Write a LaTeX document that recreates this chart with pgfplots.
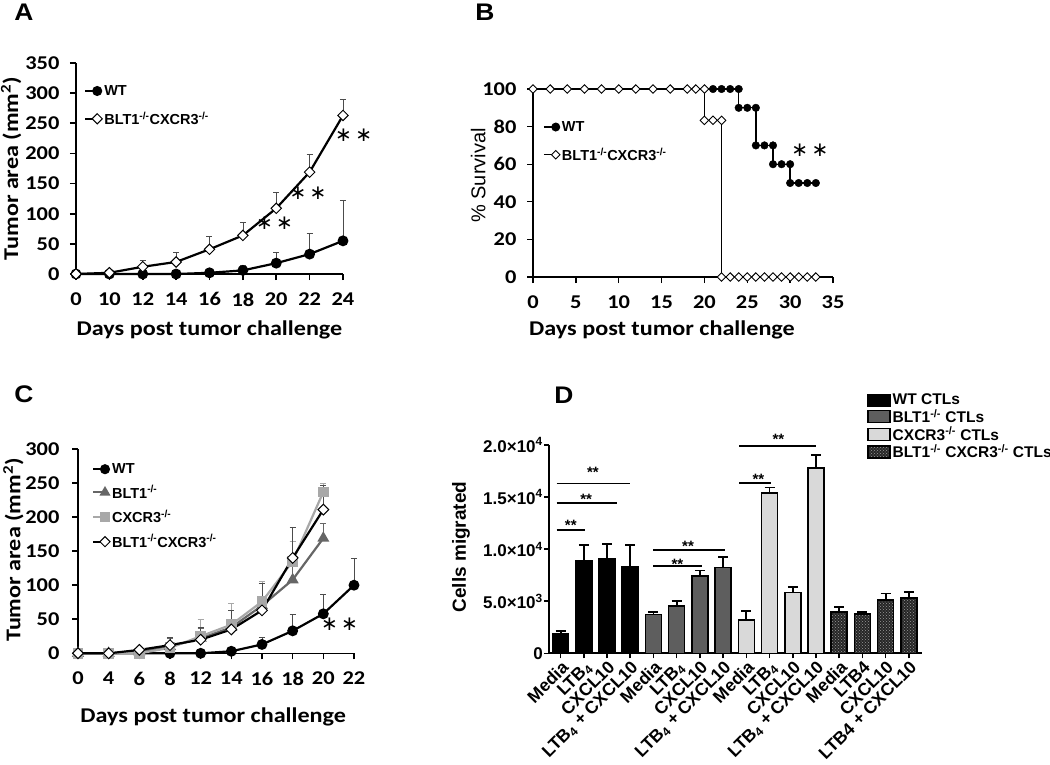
\documentclass[border=0pt]{standalone}
\usepackage{pgfplots}
\pgfplotsset{compat=1.18}
\usepackage{fontspec}
\setmainfont{Carlito}[FakeStretch=1.15]
\newfontfamily\arial{Liberation Sans}
\newfontfamily\arialw{Liberation Sans}[FakeStretch=1.1]
\newfontfamily\dejavu{DejaVu Sans}
\usetikzlibrary{patterns}
\definecolor{dgray}{HTML}{666666}
\definecolor{lgray}{HTML}{A8A8A8}
\definecolor{barlight}{HTML}{D9D9D9}
\definecolor{bardark}{HTML}{5E5E5E}
\newcommand{\sig}{{\dejavu\fontsize{20}{20}\selectfont ∗\,∗}}
\pgfplotsset{
  panel/.style={scale only axis, axis lines*=left, clip=false, enlargelimits=false,
    axis line style={line width=1.6pt}, tick align=outside, major tick length=6pt,
    tick style={line width=1.6pt, black},
    ticklabel style={font=\fontsize{19.5}{21}\selectfont\bfseries},
    xticklabel style={yshift=-9pt},
    yticklabel style={xshift=-7pt},
    /pgf/number format/assume math mode=true,
    label style={font=\fontsize{21}{24}\selectfont\bfseries},
    legend style={draw=none, fill=none, font=\arial\fontsize{14.5}{16}\selectfont\bfseries,
      inner sep=0pt, anchor=north west},
    legend cell align=left,
    legend image code/.code={\draw[mark repeat=2,mark phase=2,##1] plot coordinates {(0pt,0pt) (12pt,0pt) (15pt,0pt)};},
  },
  eb/.style={error bars/.cd, y dir=plus, y explicit,
    error bar style={line width=0.7pt, #1},
    error mark options={rotate=90, mark size=3pt, line width=0.7pt, #1}},
}
\begin{document}
\begin{tikzpicture}
\path[use as bounding box] (0,0) rectangle (1050pt,-764pt);
% panel letters
\node[font=\arialw\fontsize{24}{26}\selectfont\bfseries] at (24pt,-12pt) {A};
\node[font=\arialw\fontsize{24}{26}\selectfont\bfseries] at (485pt,-12pt) {B};
\node[font=\arialw\fontsize{24}{26}\selectfont\bfseries] at (24pt,-394pt) {C};
\node[font=\arialw\fontsize{24}{26}\selectfont\bfseries] at (564pt,-395pt) {D};

% ---------------- A ----------------
\begin{axis}[panel, at={(76pt,-274pt)}, anchor=south west, width=267pt, height=211pt,
  xmin=0, xmax=8, ymin=0, ymax=350,
  xtick={0,...,8}, xticklabels={0,10,12,14,16,18,20,22,24},
  ytick={0,50,...,350},
  xlabel={Days post tumor challenge},
  ylabel={Tumor area (mm\textsuperscript{2})},
  xlabel style={at={(axis description cs:0.5,-0.265)}, anchor=center},
  ylabel style={at={(axis description cs:-0.243,0.5)}, anchor=center},
  legend style={at={(axis description cs:0.03,0.905)}, row sep=11pt},
]
\addlegendimage{black, line width=2pt, mark=*, mark size=4pt}
\addlegendentry{WT}
\addlegendimage{black, line width=2pt, mark=square*, mark size=3.6pt, mark options={rotate=45, fill=white, line width=1pt}}
\addlegendentry{BLT1\textsuperscript{-/-}CXCR3\textsuperscript{-/-}}
\addplot[black, line width=2.2pt, mark=*, mark size=4.3pt, forget plot, eb={black!70}] coordinates {
 (0,0) (1,0) (2,0) (3,0) (4,2) (5,6) +- (0,9) (6,18) +- (0,18) (7,33) +- (0,34) (8,55) +- (0,67)};
\addplot[black, line width=2.2pt, mark=square*, mark size=3.7pt, mark options={rotate=45, fill=white, line width=1pt}, forget plot, eb={black!70}] coordinates {
 (0,0) (1,2) (2,12) +- (0,11) (3,20) +- (0,16) (4,41) +- (0,21) (5,64) +- (0,22) (6,109) +- (0,27) (7,169) +- (0,30) (8,263) +- (0,26)};
\node at (axis cs:5.95,85) {\sig};
\node at (axis cs:6.95,134) {\sig};
\node at (axis cs:8.32,231) {\sig};
\end{axis}

% ---------------- B ----------------
\begin{axis}[panel, at={(533pt,-277pt)}, anchor=south west, width=300pt, height=188pt,
  xmin=0, xmax=35, ymin=0, ymax=100,
  xtick={0,5,...,35}, ytick={0,20,...,100},
  axis line style={line width=1.3pt}, tick style={line width=1.3pt},
  xlabel={Days post tumor challenge},
  ylabel={\arial\mdseries\fontsize{20}{22}\selectfont\% Survival},
  xlabel style={at={(axis description cs:0.43,-0.282)}, anchor=center},
  ylabel style={at={(axis description cs:-0.183,0.54)}, anchor=center},
  legend style={at={(axis description cs:0.033,0.84)}, row sep=11pt},
]
\addlegendimage{black, line width=1.3pt, mark=*, mark size=3.8pt}
\addlegendentry{WT}
\addlegendimage{black, line width=1.3pt, mark=square*, mark size=3pt, mark options={rotate=45, fill=white, line width=0.9pt}}
\addlegendentry{BLT1\textsuperscript{-/-}CXCR3\textsuperscript{-/-}}
\addplot[black, line width=1.3pt, forget plot] coordinates {(0,100) (24,100) (24,90) (26,90) (26,70) (28,70) (28,60) (30,60) (30,50) (33,50)};
\addplot[only marks, black, mark=*, mark size=3.8pt, forget plot] coordinates {
 (21,100) (22,100) (23,100) (24,100) (24,90) (25,90) (26,90) (26,70) (27,70) (28,70)
 (28,60) (29,60) (30,60) (30,50) (31,50) (32,50) (33,50)};
\addplot[black, line width=1.3pt, forget plot] coordinates {(0,100) (20,100) (20,83.33) (22,83.33) (22,0) (35,0)};
\addplot[only marks, black, mark=square*, mark size=3pt, mark options={rotate=45, fill=white, line width=0.9pt}, forget plot] coordinates {
 (0,100) (2,100) (4,100) (6,100) (8,100) (10,100) (12,100) (14,100) (16,100) (18,100) (19,100) (20,100)
 (20,83.33) (21,83.33) (22,83.33)
 (22,0) (23,0) (24,0) (25,0) (26,0) (27,0) (28,0) (29,0) (30,0) (31,0) (32,0) (33,0)};
\node at (axis cs:32.3,67.5) {\sig};
\end{axis}

% ---------------- C ----------------
\begin{axis}[panel, at={(78pt,-653.3pt)}, anchor=south west, width=276pt, height=204.3pt,
  xmin=0, xmax=9, ymin=0, ymax=300,
  xtick={0,...,9}, xticklabels={0,4,6,8,12,14,16,18,20,22},
  ytick={0,50,...,300},
  yticklabel style={xshift=-2pt},
  xlabel={Days post tumor challenge},
  ylabel={Tumor area (mm\textsuperscript{2})},
  xlabel style={at={(axis description cs:0.49,-0.312)}, anchor=center},
  ylabel style={at={(axis description cs:-0.234,0.506)}, anchor=center},
  legend style={at={(axis description cs:0.05,0.94)}, row sep=6.5pt},
]
\addlegendimage{black, line width=2pt, mark=*, mark size=4pt}
\addlegendentry{WT}
\addlegendimage{dgray, line width=2pt, mark=triangle*, mark size=4.5pt}
\addlegendentry{BLT1\textsuperscript{-/-}}
\addlegendimage{lgray, line width=2pt, mark=square*, mark size=4pt}
\addlegendentry{CXCR3\textsuperscript{-/-}}
\addlegendimage{black, line width=2pt, mark=square*, mark size=3.6pt, mark options={rotate=45, fill=white, line width=1pt}}
\addlegendentry{BLT1\textsuperscript{-/-}CXCR3\textsuperscript{-/-}}
\addplot[black, line width=2.2pt, mark=*, mark size=4.3pt, forget plot, eb={black!70}] coordinates {
 (0,0) (1,0) (2,0) (3,0) (4,0) (5,3) (6,13) +- (0,11) (7,33) +- (0,24) (8,58) +- (0,29) (9,100) +- (0,40)};
\addplot[dgray, line width=2.2pt, mark=triangle*, mark size=4.8pt, forget plot, eb={dgray}] coordinates {
 (0,0) (1,0) (2,2) (3,10) +- (0,12) (4,22) +- (0,15) (5,38) +- (0,25) (6,70) +- (0,32) (7,108) +- (0,57) (8,169) +- (0,22)};
\addplot[lgray, line width=2.2pt, mark=square*, mark size=4.3pt, forget plot, eb={lgray}] coordinates {
 (0,0) (1,0) (2,0) (3,8) +- (0,15) (4,25) +- (0,25) (5,42) +- (0,32) (6,76) +- (0,29) (7,135) +- (0,30) (8,237) +- (0,13)};
\addplot[black, line width=2.2pt, mark=square*, mark size=3.8pt, mark options={rotate=45, fill=white, line width=1pt}, forget plot, eb={black!70}] coordinates {
 (0,0) (1,0) (2,5) (3,12) +- (0,12) (4,20) +- (0,18) (5,35) +- (0,28) (6,63) +- (0,40) (7,140) +- (0,45) (8,211) +- (0,35)};
\node at (axis cs:8.53,43) {\sig};
\end{axis}

% ---------------- D ----------------
\begin{axis}[scale only axis, at={(549pt,-653.3pt)}, anchor=south west, width=372.6pt, height=208.3pt,
  axis lines*=left, clip=false, enlargelimits=false,
  xmin=-0.5, xmax=15.55, ymin=0, ymax=20000,
  axis line style={line width=2.2pt}, tick align=outside, major tick length=5pt,
  tick style={line width=1.6pt, black},
  scaled y ticks=false,
  ytick={0,5000,10000,15000,20000},
  yticklabels={0,5.0×10\textsuperscript{3},1.0×10\textsuperscript{4},1.5×10\textsuperscript{4},2.0×10\textsuperscript{4}},
  yticklabel style={font=\arial\fontsize{17}{18}\selectfont\bfseries, inner sep=1pt},
  xtick={0,...,15},
  xticklabels={Media,LTB\textsubscript{4},CXCL10,LTB\textsubscript{4} + CXCL10,
    Media,LTB\textsubscript{4},CXCL10,LTB\textsubscript{4} + CXCL10,
    Media,LTB\textsubscript{4},CXCL10,LTB\textsubscript{4} + CXCL10,
    Media,LTB4,CXCL10,LTB4 + CXCL10},
  xticklabel style={font=\arial\fontsize{17.5}{18}\selectfont\bfseries, rotate=45, anchor=north east, inner sep=1pt},
  ylabel={Cells migrated},
  ylabel style={font=\arial\fontsize{19}{20}\selectfont\bfseries, at={(axis description cs:-0.236,0.51)}, anchor=center},
  legend style={draw=none, fill=none, font=\arial\fontsize{15.5}{16}\selectfont\bfseries,
    at={(axis description cs:0.8535,1.255)}, anchor=north west, inner sep=0pt, row sep=-1pt},
  legend cell align=left,
  legend image code/.code={\draw[#1] (0pt,-6pt) rectangle (22pt,6pt);},
]
\addlegendimage{fill=black, draw=black, line width=1.5pt}
\addlegendentry{WT CTLs}
\addlegendimage{fill=bardark, draw=black, line width=1.5pt}
\addlegendentry{BLT1\textsuperscript{-/-} CTLs}
\addlegendimage{fill=barlight, draw=black, line width=1.5pt}
\addlegendentry{CXCR3\textsuperscript{-/-} CTLs}
\addlegendimage{fill=black!85, draw=black, line width=1.5pt, postaction={pattern=crosshatch dots, pattern color=black!40}}
\addlegendentry{BLT1\textsuperscript{-/-} CXCR3\textsuperscript{-/-} CTLs}
\addplot[ybar, bar width=16pt, bar shift=0pt, fill=black, draw=black, line width=1.6pt, forget plot,
  error bars/.cd, y dir=plus, y explicit, error bar style={line width=1.8pt, black},
  error mark options={rotate=90, mark size=5pt, line width=1.8pt, black}] coordinates {
 (0,1920) +- (0,250) (1,8860) +- (0,1540) (2,9120) +- (0,1340) (3,8310) +- (0,2090)};
\addplot[ybar, bar width=16pt, bar shift=0pt, fill=bardark, draw=black, line width=1.6pt, forget plot,
  error bars/.cd, y dir=plus, y explicit, error bar style={line width=1.8pt, black},
  error mark options={rotate=90, mark size=5pt, line width=1.8pt, black}] coordinates {
 (4,3740) +- (0,250) (5,4540) +- (0,480) (6,7450) +- (0,510) (7,8250) +- (0,1020)};
\addplot[ybar, bar width=16pt, bar shift=0pt, fill=barlight, draw=black, line width=1.6pt, forget plot,
  error bars/.cd, y dir=plus, y explicit, error bar style={line width=1.8pt, black},
  error mark options={rotate=90, mark size=5pt, line width=1.8pt, black}] coordinates {
 (8,3200) +- (0,890) (9,15410) +- (0,520) (10,5850) +- (0,540) (11,17810) +- (0,1220)};
\addplot[ybar, bar width=16pt, bar shift=0pt, fill=black!85, draw=black, line width=1.6pt, forget plot,
  postaction={pattern=crosshatch dots, pattern color=black!40},
  error bars/.cd, y dir=plus, y explicit, error bar style={line width=1.8pt, black},
  error mark options={rotate=90, mark size=5pt, line width=1.8pt, black}] coordinates {
 (12,3990) +- (0,420) (13,3770) +- (0,190) (14,5110) +- (0,640) (15,5330) +- (0,520)};
% significance brackets
\draw[line width=1.8pt] (axis cs:-0.17,11830) -- (axis cs:1.07,11830);
\draw[line width=1.8pt] (axis cs:-0.17,14400) -- (axis cs:2.45,14400);
\draw[line width=1.8pt] (axis cs:-0.17,16310) -- (axis cs:3.0,16310);
\draw[line width=1.8pt] (axis cs:3.98,8380) -- (axis cs:6.1,8380);
\draw[line width=1.8pt] (axis cs:3.98,9910) -- (axis cs:7.08,9910);
\draw[line width=1.8pt] (axis cs:7.7,16370) -- (axis cs:9.05,16370);
\draw[line width=1.8pt] (axis cs:7.7,19900) -- (axis cs:11.0,19900);
\begin{scope}[every node/.style={font=\arial\fontsize{15}{16}\selectfont\bfseries, anchor=base, yshift=-9pt}]
\node at (axis cs:0.44,12620) {**};
\node at (axis cs:1.1,15190) {**};
\node at (axis cs:1.39,17750) {**};
\node at (axis cs:5.03,8950) {**};
\node at (axis cs:5.49,10650) {**};
\node at (axis cs:8.52,17110) {**};
\node at (axis cs:9.38,20880) {**};
\end{scope}
\end{axis}
\end{tikzpicture}
\end{document}
